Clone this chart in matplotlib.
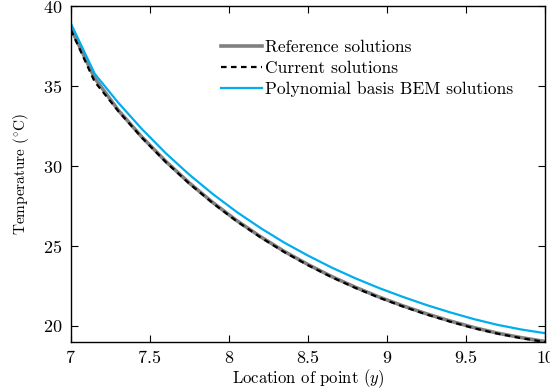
import numpy as np
import matplotlib
matplotlib.use("Agg")
import matplotlib.pyplot as plt

plt.rcParams['font.family'] = 'serif'
plt.rcParams['font.serif'] = ['cmr10']
plt.rcParams['mathtext.fontset'] = 'cm'
plt.rcParams['axes.formatter.use_mathtext'] = True

# sample locations along y
y_loc = [7.00, 7.15, 7.30, 7.45, 7.60, 7.75, 7.90, 8.05, 8.20, 8.35, 8.50,
         8.65, 8.80, 8.95, 9.10, 9.25, 9.40, 9.55, 9.70, 9.85, 10.00]

reference = [38.60, 35.50, 33.48, 31.80, 30.29, 28.93, 27.70, 26.58, 25.58,
             24.66, 23.84, 23.09, 22.42, 21.81, 21.26, 20.76, 20.31, 19.90,
             19.55, 19.27, 19.03]
current = [38.50, 35.27, 33.43, 31.76, 30.25, 28.89, 27.66, 26.54, 25.54,
           24.62, 23.80, 23.05, 22.38, 21.77, 21.22, 20.72, 20.27, 19.86,
           19.52, 19.24, 19.00]
poly_bem = [38.90, 35.77, 33.95, 32.30, 30.80, 29.45, 28.23, 27.12, 26.12,
            25.21, 24.40, 23.65, 22.98, 22.37, 21.82, 21.31, 20.85, 20.43,
            20.07, 19.78, 19.55]

fig = plt.figure(figsize=(5.5, 3.92), dpi=100)
ax = fig.add_axes([0.129, 0.1276, 0.862, 0.857])

ax.plot(y_loc, reference, color='#808080', linewidth=2.6, label='Reference solutions')
ax.plot(y_loc, current, color='black', linewidth=1.6, linestyle=(0, (2.5, 2)),
        label='Current solutions')
ax.plot(y_loc, poly_bem, color='#00AEEF', linewidth=1.6,
        label='Polynomial basis BEM solutions')

ax.set_xlim(7, 10)
ax.set_ylim(19, 40)
ax.set_xticks([7, 7.5, 8, 8.5, 9, 9.5, 10])
ax.set_xticklabels(['7', '7.5', '8', '8.5', '9', '9.5', '10'])
ax.set_yticks([20, 25, 30, 35, 40])
ax.tick_params(direction='in', top=True, right=True, length=5, width=0.8,
               labelsize=13, pad=6)
for s in ax.spines.values():
    s.set_linewidth(1.0)

ax.set_xlabel(r'Location of point ($y$)', fontsize=12, labelpad=1)
ax.set_ylabel(r'Temperature ($^{\circ}$C)', fontsize=11, labelpad=9)

ax.legend(loc='upper left', bbox_to_anchor=(0.301, 0.92), frameon=False,
          fontsize=12.6, handlelength=2.35, handletextpad=0.2, labelspacing=0.3,
          borderaxespad=0)

fig.savefig('out.png', dpi=100)
